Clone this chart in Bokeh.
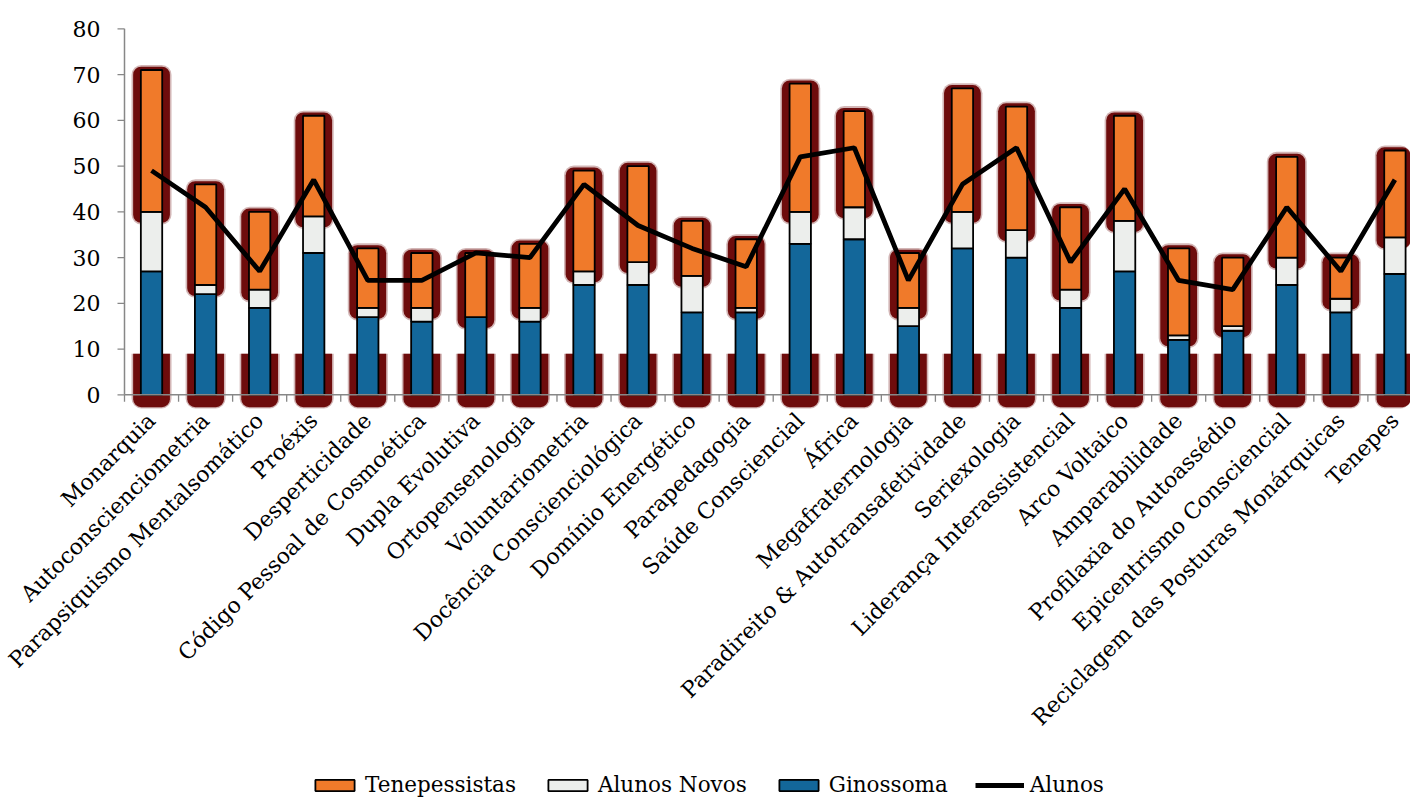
import math
from bokeh.plotting import figure
from bokeh.models import ColumnDataSource, Legend, LegendItem, Range1d
from bokeh.core.properties import value
from bokeh.embed import file_html
from bokeh.resources import INLINE

categories = ["Monarquia", "Autoconscienciometria", "Parapsiquismo Mentalsomático", "Proéxis",
              "Desperticidade", "Código Pessoal de Cosmoética", "Dupla Evolutiva", "Ortopensenologia",
              "Voluntariometria", "Docência Conscienciológica", "Domínio Energético", "Parapedagogia",
              "Saúde Consciencial", "África", "Megafraternologia", "Paradireito & Autotransafetividade",
              "Seriexologia", "Liderança Interassistencial", "Arco Voltaico", "Amparabilidade",
              "Profilaxia do Autoassédio", "Epicentrismo Consciencial",
              "Reciclagem das Posturas Monárquicas", "Tenepes"]
ginossoma = [27, 22, 19, 31, 17, 16, 17, 16, 24, 24, 18, 18, 33, 34, 15, 32, 30, 19, 27, 12, 14, 24, 18, 26.4]
alunos_novos = [13, 2, 4, 8, 2, 3, 0, 3, 3, 5, 8, 1, 7, 7, 4, 8, 6, 4, 11, 1, 1, 6, 3, 8]
tenepessistas = [31, 22, 17, 22, 13, 12, 14, 14, 22, 21, 12, 15, 28, 21, 12, 27, 27, 18, 23, 19, 15, 22, 9, 19]
alunos = [49, 41, 27, 47, 25, 25, 31, 30, 46, 37, 32, 28, 52, 54, 25, 46, 54, 29, 45, 25, 23, 41, 27, 47]
y_ticks = [0, 10, 20, 30, 40, 50, 60, 70, 80]
y_tick_labels = ["0", "10", "20", "30", "40", "50", "60", "70", "80"]

FONT = "DejaVu Serif"
ORANGE = "#F07A2A"
GRAY = "#ECEEEC"
BLUE = "#13679A"
SHADOW = "#6E0C0C"
AXIS = "#878787"

# layout (screen pixels)
W, H = 1410, 797
AX_LEFT = 124          # x pixel of the value axis
CAT_PX = 54.06         # pixels per category
ZERO_PX = 394.3        # y pixel of value 0
UNIT_PX = 4.575        # pixels per value unit

n = len(categories)
xs = list(range(1, n + 1))
n_top = [g + a for g, a in zip(ginossoma, alunos_novos)]
t_top = [a + t for a, t in zip(n_top, tenepessistas)]

x0 = 0.5 - AX_LEFT / CAT_PX
x1 = x0 + W / CAT_PX
y1 = ZERO_PX / UNIT_PX
y0 = y1 - H / UNIT_PX

src = ColumnDataSource(dict(
    x=xs, zero=[0] * n, g_top=ginossoma, n_top=n_top, t_top=t_top, alunos=alunos,
    sh_bot=[v - 2.4 for v in n_top], sh_top=[v + 0.7 for v in t_top],
    sh_bot2=[v - 2.8 for v in n_top], sh_top2=[v + 1.1 for v in t_top],
    low_bot=[-2.7] * n, low_bot2=[-3.0] * n, low_top=[9] * n,
    label=categories,
))
bounds = [x - 0.5 for x in xs] + [n + 0.5]
xtick_src = ColumnDataSource(dict(x=bounds, y0=[0] * len(bounds), y1=[-7 / UNIT_PX] * len(bounds)))
ytick_src = ColumnDataSource(dict(y=y_ticks, xa=[0.5] * len(y_ticks),
                                  xb=[0.5 - 7 / CAT_PX] * len(y_ticks), label=y_tick_labels))

p = figure(frame_width=W, frame_height=H, min_border=0,
           x_range=Range1d(x0, x1), y_range=Range1d(y0, y1),
           x_axis_type=None, y_axis_type=None,
           output_backend="svg", toolbar_location=None)
p.outline_line_color = None
p.grid.visible = False
p.background_fill_color = "white"
p.border_fill_color = "white"

# shadows (soft outer + solid inner)
p.vbar(x="x", width=0.74, bottom="low_bot2", top="low_top", source=src, fill_color=SHADOW,
       fill_alpha=0.3, line_color=None, border_radius=(0, 0, 10, 10))
p.vbar(x="x", width=0.68, bottom="low_bot", top="low_top", source=src, fill_color=SHADOW,
       line_color=None, border_radius=(0, 0, 8, 8))
p.vbar(x="x", width=0.74, bottom="sh_bot2", top="sh_top2", source=src, fill_color=SHADOW,
       fill_alpha=0.3, line_color=None, border_radius=10)
p.vbar(x="x", width=0.68, bottom="sh_bot", top="sh_top", source=src, fill_color=SHADOW,
       line_color=None, border_radius=8)

r_g = p.vbar(x="x", width=0.395, bottom="zero", top="g_top", source=src, fill_color=BLUE,
             line_color="black", line_width=1.8)
r_n = p.vbar(x="x", width=0.395, bottom="g_top", top="n_top", source=src, fill_color=GRAY,
             line_color="black", line_width=1.8)
r_t = p.vbar(x="x", width=0.395, bottom="n_top", top="t_top", source=src, fill_color=ORANGE,
             line_color="black", line_width=1.8)

# category axis: line at zero, boundary ticks, rotated labels
p.segment(x0=0.5, y0=0, x1=x1, y1=0, line_color=AXIS, line_width=1.5)
p.segment(x0="x", y0="y0", x1="x", y1="y1", source=xtick_src, line_color=AXIS, line_width=1.3)
p.text(x="x", y="zero", text="label", source=src, angle=math.pi / 4,
       text_align="right", text_baseline="middle", y_offset=22, x_offset=0,
       text_font=value(FONT), text_font_size="22px", text_color="black")

# value axis
p.segment(x0=0.5, y0=0, x1=0.5, y1=80, line_color=AXIS, line_width=1.5)
p.segment(x0="xb", y0="y", x1="xa", y1="y", source=ytick_src, line_color=AXIS, line_width=1.3)
p.text(x="xa", y="y", text="label", source=ytick_src, x_offset=-24,
       text_align="right", text_baseline="middle",
       text_font=value(FONT), text_font_size="22px", text_color="black")

r_l = p.line(x="x", y="alunos", source=src, line_color="black", line_width=4.8)

legend = Legend(items=[
    LegendItem(label="Tenepessistas", renderers=[r_t]),
    LegendItem(label="Alunos Novos", renderers=[r_n]),
    LegendItem(label="Ginossoma", renderers=[r_g]),
    LegendItem(label="Alunos", renderers=[r_l]),
], orientation="horizontal", location=(310, 0),
    glyph_width=49, glyph_height=14, label_standoff=6, spacing=27, padding=0, margin=0,
    border_line_color=None, background_fill_alpha=0,
    label_text_font=FONT, label_text_font_size="21.5px", label_text_color="black")
p.add_layout(legend, "center")

open("out.html", "w").write(file_html(p, INLINE))
